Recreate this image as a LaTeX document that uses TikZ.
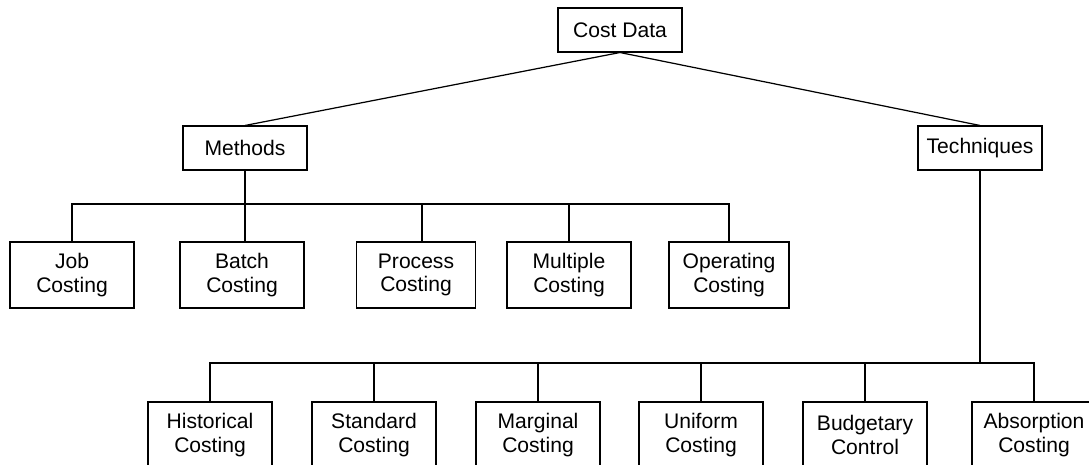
\documentclass[tikz,border=0pt]{standalone}
\usepackage{fontspec}
\setmainfont{Liberation Sans}
\usepackage{tikz}

\tikzset{costbox/.style={draw, line width=0.6pt, color=black, inner sep=0cm,
                         align=center, font=\fontsize{12}{13.2}\selectfont,
                         minimum width=2.48cm, minimum height=0.88cm},
         tallbox/.style={costbox, minimum height=1.32cm},
         link/.style={line width=0.7pt, color=black}}

\begin{document}
\begin{tikzpicture}[x=0.02cm, y=-0.02cm]
\useasboundingbox (0,0) rectangle (1089,465);
\clip (0,0) rectangle (1089,465);

\node[costbox] (cost) at (620,30) {Cost Data};
\node[costbox] (meth) at (245,148) {Methods};
\node[costbox] (tech) at (980,148) {Techniques};

\node[tallbox] (job)  at (72,275)  {Job\\Costing};
\node[tallbox] (bat)  at (242,275) {Batch\\Costing};
\node[tallbox, minimum width=2.38cm] (proc) at (416,275) {Process\\Costing};
\node[tallbox] (mult) at (569,275) {Multiple\\Costing};
\node[tallbox, minimum width=2.4cm] (oper) at (729,275) {Operating\\Costing};

\node[tallbox] (hist) at (210,435)  {Historical\\Costing};
\node[tallbox] (stan) at (374,435)  {Standard\\Costing};
\node[tallbox] (marg) at (538,435)  {Marginal\\Costing};
\node[tallbox] (unif) at (701,435)  {Uniform\\Costing};
\node[tallbox] (budg) at (865,435)  {Budgetary\\Control};
\node[tallbox] (absn) at (1034,435) {Absorption\\Costing};

\coordinate (mbar) at (245,204);
\coordinate (tbar) at (980,363);

\draw[link] (cost.south) -- (meth.north);
\draw[link] (cost.south) -- (tech.north);

\draw[link] (meth.south) -- (mbar);
\draw[link] (job.north) |- (mbar) -| (oper.north);
\foreach \n/\cx in {bat/245, proc/422, mult/569}
  \draw[link] (\cx,0 |- \n.north) -- (\cx,0 |- mbar);

\draw[link] (tech.south) -- (tbar);
\draw[link] (hist.north) |- (tbar) -| (absn.north);
\foreach \n in {stan, marg, unif, budg}
  \draw[link] (\n.north) -- (\n.north |- tbar);
\end{tikzpicture}
\end{document}
